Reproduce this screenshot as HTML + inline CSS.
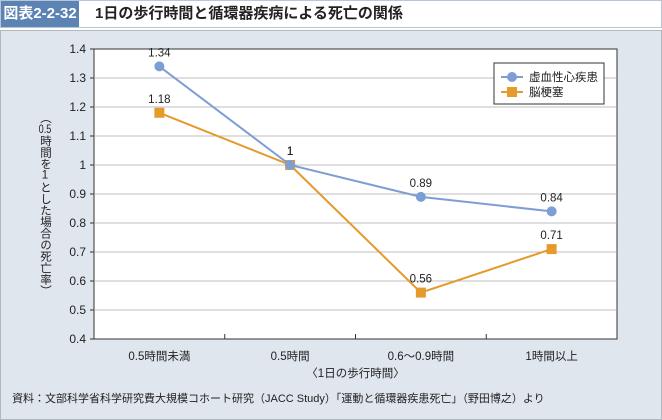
<!DOCTYPE html>
<html><head><meta charset="utf-8"><style>
body{margin:0;width:662px;height:420px;background:#fff;font-family:"Liberation Sans","Noto Sans CJK JP",sans-serif;overflow:hidden;position:relative}
#hdr{position:absolute;left:0;top:0;width:660px;height:26px;border:1px solid #b8c6d6;background:#fff}
#tag{position:absolute;left:0;top:0;width:78px;height:26px;background:#5b83b3;color:#fff;font-weight:bold;font-size:15px;line-height:26px;text-align:center}
#ttl{position:absolute;left:94px;top:0;line-height:26px;font-weight:bold;font-size:15px;color:#222}
#panel{position:absolute;left:0;top:30px;width:660px;height:388px;background:#dfe6ee;border:1px solid #b0b8c0}
svg{position:absolute;left:0;top:0}
#ytitle{position:absolute;left:37px;top:112px;height:190px;writing-mode:vertical-rl;text-orientation:upright;font-size:11.5px;color:#222;line-height:16px;z-index:2}
#ytitle .tcy{text-combine-upright:all}
</style></head><body>
<div id="hdr"><div id="tag">図表2-2-32</div><div id="ttl">1日の歩行時間と循環器疾病による死亡の関係</div></div>
<div id="panel"></div>
<div id="ytitle">（<span class="tcy">0.5</span>時間を1とした場合の死亡率）</div>
<svg id="chart" width="662" height="420" font-family="Liberation Sans, Noto Sans CJK JP, sans-serif"></svg>
<script>
const categories=["0.5時間未満","0.5時間","0.6～0.9時間","1時間以上"];
const heartValues=[1.34,1,0.89,0.84];
const strokeValues=[1.18,1,0.56,0.71];
const yTicks=[0.4,0.5,0.6,0.7,0.8,0.9,1,1.1,1.2,1.3,1.4];
const yTickLabels=["0.4","0.5","0.6","0.7","0.8","0.9","1","1.1","1.2","1.3","1.4"];
const seriesNames=["虚血性心疾患","脳梗塞"];
const L=94,R=617,T=49,B=339,ymin=0.4,ymax=1.4;
const bw=(R-L)/categories.length;
const x=i=>L+bw*(i+0.5);
const y=v=>B-(v-ymin)/(ymax-ymin)*(B-T);
const svg=document.getElementById('chart');
const NS='http://www.w3.org/2000/svg';
function mk(t,a,p){const e=document.createElementNS(NS,t);for(const k in a)e.setAttribute(k,a[k]);(p||svg).appendChild(e);return e;}
const bg=mk('rect',{x:L,y:T,width:R-L,height:B-T,fill:'#fff',stroke:'#333','stroke-width':1});


yTicks.forEach((v,i)=>{
  if(i>0&&i<yTicks.length-1){const g=mk('line',{x1:L,x2:R,y1:y(v),y2:y(v),stroke:'#aaa','stroke-width':0.7});
  
  }
  mk('line',{x1:L-4,x2:L,y1:y(v),y2:y(v),stroke:'#333'});
  const t=mk('text',{x:L-8,y:y(v)+4,'text-anchor':'end','font-size':12,fill:'#222'});t.textContent=yTickLabels[i];
  
  
});
categories.forEach((c,i)=>{
  if(i>0)mk('line',{x1:L+bw*i,x2:L+bw*i,y1:B-5,y2:B,stroke:'#333'});
  const t=mk('text',{x:x(i),y:B+21,'text-anchor':'middle','font-size':11.5,fill:'#222'});t.textContent=c;
  
  
});
const xt=mk('text',{x:(L+R)/2,y:B+38,'text-anchor':'middle','font-size':11.5,fill:'#222'});xt.textContent='〈1日の歩行時間〉';


function series(vals,color,square,name){
  const pts=vals.map((v,i)=>x(i)+','+y(v)).join(' ');
  const pl=mk('polyline',{points:pts,fill:'none',stroke:color,'stroke-width':2});
  
  
  vals.forEach((v,i)=>{
    const m=square?mk('rect',{x:x(i)-5,y:y(v)-5,width:10,height:10,fill:color}):mk('circle',{cx:x(i),cy:y(v),r:5,fill:color});
    
    
    const t=mk('text',{x:x(i),y:y(v)-10,'text-anchor':'middle','font-size':11.5,fill:'#222'});t.textContent=String(v);
    
    
  });
}
series(strokeValues,'#e59a2c',true,'stroke');
series(heartValues,'#7d9ed4',false,'heart');
const lg=mk('rect',{x:494,y:63,width:110,height:41,fill:'#fff',stroke:'#333'});


[['#7d9ed4',false],['#e59a2c',true]].forEach((s,i)=>{
  const cy=77+i*15;
  mk('line',{x1:501,x2:523,y1:cy,y2:cy,stroke:s[0],'stroke-width':2});
  if(s[1])mk('rect',{x:507,y:cy-5,width:10,height:10,fill:s[0]});else mk('circle',{cx:512,cy:cy,r:5,fill:s[0]});
  const t=mk('text',{x:529,y:cy+4,'font-size':11.5,fill:'#222'});t.textContent=seriesNames[i];
  
  
});
const src=mk('text',{x:12,y:402,'font-size':11,fill:'#222'});src.textContent='資料：文部科学省科学研究費大規模コホート研究（JACC Study）「運動と循環器疾患死亡」（野田博之）より';


</script>
</body></html>
